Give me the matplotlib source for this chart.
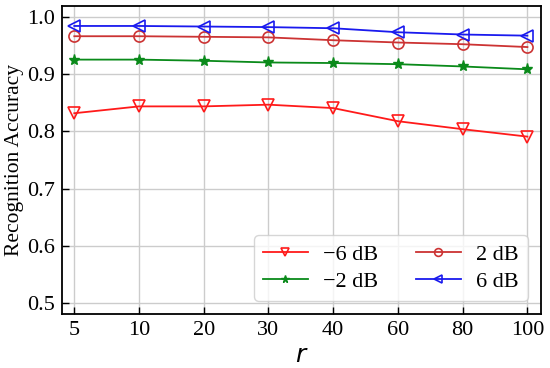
import matplotlib
matplotlib.use("Agg")
import matplotlib.pyplot as plt
import numpy as np

r_labels = ["5", "10", "20", "30", "40", "60", "80", "100"]
acc_m6 = [0.832, 0.844, 0.844, 0.847, 0.841, 0.818, 0.804, 0.791]
acc_m2 = [0.926, 0.926, 0.924, 0.921, 0.920, 0.918, 0.914, 0.909]
acc_p2 = [0.967, 0.967, 0.966, 0.965, 0.960, 0.956, 0.953, 0.948]
acc_p6 = [0.985, 0.985, 0.984, 0.983, 0.981, 0.974, 0.970, 0.968]
series_labels = ["\u22126 dB", "\u22122 dB", "2 dB", "6 dB"]

plt.rcParams['font.family'] = ['Liberation Serif', 'DejaVu Serif']
fig = plt.figure(figsize=(5.5, 3.68), dpi=100)
ax = fig.add_axes([62/550, 1-314/368, (541-62)/550, (314-6)/368])
x = np.arange(len(r_labels))

ax.plot(x, acc_m6, color='#ff1a1a', marker='v', mfc='none', ms=8, mew=1.2, lw=1.3, label=series_labels[0])
ax.plot(x, acc_m2, color='#0a8a1a', marker='*', ms=8, lw=1.3, label=series_labels[1])
ax.plot(x, acc_p2, color='#cc3333', marker='o', mfc='none', ms=8, mew=1.2, lw=1.3, label=series_labels[2])
ax.plot(x, acc_p6, color='#1a1aee', marker='<', mfc='none', ms=8, mew=1.2, lw=1.3, label=series_labels[3])

ax.set_xticks(x)
ax.set_xticklabels(r_labels)
ax.set_xlim(-0.19, 7.21)
ax.set_ylim(0.48, 1.02)
ax.set_yticks([0.5, 0.6, 0.7, 0.8, 0.9, 1.0])
ax.set_yticklabels(["0.5", "0.6", "0.7", "0.8", "0.9", "1.0"])
ax.tick_params(direction='in', labelsize=16, length=5, width=1, pad=5)
ax.grid(True, color='#cccccc', lw=1)
ax.set_axisbelow(True)
for s in ax.spines.values():
    s.set_linewidth(1.3)
ax.set_ylabel("Recognition Accuracy", fontsize=15.5, labelpad=2)
ax.set_xlabel("$r$", fontsize=18, family='DejaVu Sans', labelpad=2)
ax.legend(ncol=2, loc='lower right', fontsize=16, frameon=True, handlelength=2.0,
          handletextpad=0.7, columnspacing=1.7, borderaxespad=0.6,
          markerscale=0.7, labelspacing=0.3)

fig.savefig("out.png", dpi=100)
